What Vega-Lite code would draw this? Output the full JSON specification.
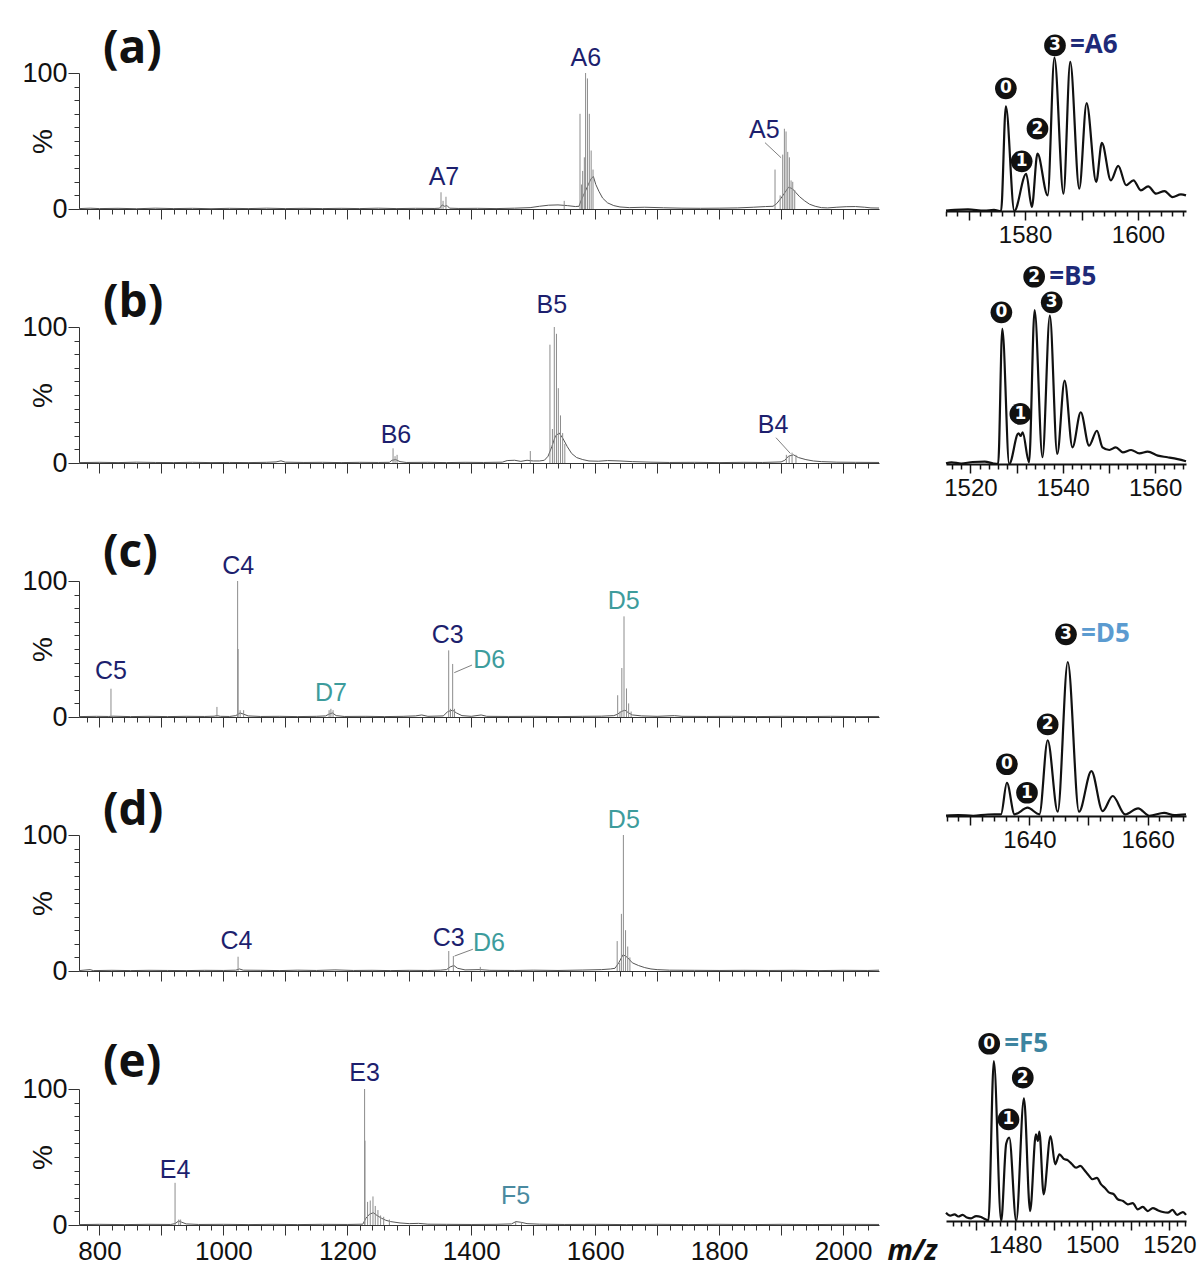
{
"$schema": "https://vega.github.io/schema/vega-lite/v6.json",
"background": "white",
"padding": {"left": 21, "top": 25, "right": 5, "bottom": 5},
"columns": 2,
"bounds": "flush",
"align": "each",
"spacing": {"row": 118, "column": 67},
"config": {"view": {"stroke": null}, "axis": {"grid": false}},
"datasets": {
"aE": [{"mz":767,"i":0.3},{"mz":785,"i":0.6},{"mz":800,"i":0.3},{"mz":830,"i":0.5},{"mz":860,"i":0.2},{"mz":890,"i":0.6},{"mz":920,"i":0.3},{"mz":950,"i":0.5},{"mz":980,"i":0.2},{"mz":1010,"i":0.5},{"mz":1040,"i":0.3},{"mz":1070,"i":0.6},{"mz":1100,"i":0.3},{"mz":1130,"i":0.5},{"mz":1160,"i":0.3},{"mz":1190,"i":0.5},{"mz":1220,"i":0.3},{"mz":1250,"i":0.6},{"mz":1280,"i":0.3},{"mz":1310,"i":0.5},{"mz":1340,"i":0.4},{"mz":1349,"i":0.6},{"mz":1353,"i":3},{"mz":1357,"i":2},{"mz":1361,"i":2.5},{"mz":1365,"i":0.6},{"mz":1380,"i":0.4},{"mz":1410,"i":0.5},{"mz":1440,"i":0.3},{"mz":1470,"i":0.6},{"mz":1495,"i":1},{"mz":1510,"i":2},{"mz":1525,"i":2.8},{"mz":1540,"i":3},{"mz":1555,"i":2.5},{"mz":1568,"i":1.8},{"mz":1574,"i":2},{"mz":1577,"i":6},{"mz":1581,"i":10},{"mz":1585,"i":14},{"mz":1589,"i":18},{"mz":1593,"i":22},{"mz":1597,"i":24},{"mz":1601,"i":18},{"mz":1606,"i":13},{"mz":1612,"i":8},{"mz":1620,"i":4.5},{"mz":1630,"i":2.5},{"mz":1640,"i":1.5},{"mz":1655,"i":1},{"mz":1680,"i":1.3},{"mz":1710,"i":0.9},{"mz":1740,"i":0.6},{"mz":1770,"i":0.5},{"mz":1800,"i":0.6},{"mz":1830,"i":0.8},{"mz":1855,"i":1.3},{"mz":1875,"i":1.8},{"mz":1887,"i":2},{"mz":1893,"i":4},{"mz":1900,"i":8},{"mz":1906,"i":12},{"mz":1912,"i":16},{"mz":1918,"i":15},{"mz":1924,"i":12},{"mz":1930,"i":9},{"mz":1938,"i":6},{"mz":1946,"i":3.5},{"mz":1955,"i":2},{"mz":1965,"i":1},{"mz":1975,"i":0.8},{"mz":1990,"i":1.3},{"mz":2005,"i":1.7},{"mz":2020,"i":1.8},{"mz":2035,"i":1.3},{"mz":2045,"i":0.8},{"mz":2058,"i":0.7}],
"aP": [{"mz":1351.2,"i":12.3},{"mz":1354.5,"i":6},{"mz":1359.2,"i":9},{"mz":1550,"i":6},{"mz":1575.5,"i":70},{"mz":1578,"i":18},{"mz":1579.8,"i":28},{"mz":1582.5,"i":38},{"mz":1584.5,"i":100},{"mz":1587.5,"i":96},{"mz":1590.5,"i":70},{"mz":1593.5,"i":43},{"mz":1596.5,"i":29},{"mz":1890.2,"i":29},{"mz":1898.5,"i":10},{"mz":1902.6,"i":40},{"mz":1905.3,"i":59},{"mz":1908,"i":57},{"mz":1910.7,"i":42},{"mz":1913.4,"i":38},{"mz":1916.1,"i":21},{"mz":1918.8,"i":20},{"mz":1922,"i":14}],
"aL": [{"mz":1356,"i":17.5,"t":"A7","f":"A"},{"mz":1585,"i":105,"t":"A6","f":"A"},{"mz":1873,"i":52.4,"t":"A5","f":"A"}],
"aLd": [{"mz":1874,"i":48.8,"mz2":1900,"i2":37.7}],
"bE": [{"mz":767,"i":0.3},{"mz":800,"i":0.5},{"mz":830,"i":0.3},{"mz":860,"i":0.6},{"mz":890,"i":0.4},{"mz":920,"i":0.3},{"mz":950,"i":0.5},{"mz":980,"i":0.3},{"mz":1010,"i":0.4},{"mz":1040,"i":0.3},{"mz":1070,"i":0.5},{"mz":1085,"i":0.8},{"mz":1093,"i":1.6},{"mz":1100,"i":0.6},{"mz":1130,"i":0.4},{"mz":1160,"i":0.5},{"mz":1190,"i":0.3},{"mz":1220,"i":0.5},{"mz":1250,"i":0.4},{"mz":1268,"i":0.5},{"mz":1272,"i":2},{"mz":1278,"i":2.5},{"mz":1285,"i":1},{"mz":1295,"i":0.4},{"mz":1330,"i":0.5},{"mz":1360,"i":0.3},{"mz":1390,"i":0.5},{"mz":1420,"i":0.4},{"mz":1450,"i":0.6},{"mz":1458,"i":1.8},{"mz":1470,"i":2},{"mz":1480,"i":1.2},{"mz":1490,"i":2},{"mz":1500,"i":1.5},{"mz":1510,"i":1.5},{"mz":1518,"i":2},{"mz":1524,"i":5},{"mz":1530,"i":12},{"mz":1536,"i":20},{"mz":1542,"i":22},{"mz":1548,"i":18},{"mz":1555,"i":12},{"mz":1562,"i":7},{"mz":1570,"i":4},{"mz":1580,"i":2.5},{"mz":1590,"i":1.5},{"mz":1605,"i":1.3},{"mz":1620,"i":1.8},{"mz":1640,"i":1.5},{"mz":1660,"i":1},{"mz":1690,"i":0.6},{"mz":1720,"i":0.4},{"mz":1760,"i":0.5},{"mz":1800,"i":0.3},{"mz":1840,"i":0.5},{"mz":1870,"i":0.4},{"mz":1900,"i":0.8},{"mz":1906,"i":2},{"mz":1912,"i":5},{"mz":1920,"i":6},{"mz":1928,"i":4},{"mz":1940,"i":2.5},{"mz":1952,"i":1.5},{"mz":1965,"i":1},{"mz":1990,"i":0.6},{"mz":2020,"i":0.5},{"mz":2058,"i":0.4}],
"bP": [{"mz":1273.8,"i":10.8},{"mz":1277,"i":5},{"mz":1280.3,"i":6},{"mz":1495.3,"i":8.8},{"mz":1527,"i":87},{"mz":1531,"i":25},{"mz":1534,"i":100},{"mz":1537.5,"i":95},{"mz":1540.5,"i":55},{"mz":1544,"i":35},{"mz":1547.5,"i":22},{"mz":1551,"i":14},{"mz":1908.5,"i":6},{"mz":1913,"i":5},{"mz":1917.7,"i":7.6},{"mz":1924,"i":6}],
"bL": [{"mz":1278.5,"i":14.9,"t":"B6","f":"B"},{"mz":1530,"i":110.5,"t":"B5","f":"B"},{"mz":1887,"i":22.3,"t":"B4","f":"B"}],
"bLd": [{"mz":1891.8,"i":18.6,"mz2":1915,"i2":7}],
"cE": [{"mz":767,"i":0.3},{"mz":795,"i":0.5},{"mz":815,"i":0.4},{"mz":822,"i":0.6},{"mz":850,"i":0.3},{"mz":880,"i":0.5},{"mz":910,"i":0.3},{"mz":940,"i":0.5},{"mz":970,"i":0.4},{"mz":985,"i":0.6},{"mz":990,"i":1},{"mz":995,"i":0.5},{"mz":1010,"i":0.4},{"mz":1020,"i":1},{"mz":1027,"i":3},{"mz":1033,"i":2},{"mz":1040,"i":0.8},{"mz":1060,"i":0.4},{"mz":1090,"i":0.5},{"mz":1120,"i":0.3},{"mz":1150,"i":0.5},{"mz":1165,"i":0.8},{"mz":1170,"i":2},{"mz":1176,"i":3},{"mz":1182,"i":1},{"mz":1195,"i":0.4},{"mz":1230,"i":0.5},{"mz":1260,"i":0.3},{"mz":1290,"i":0.5},{"mz":1310,"i":0.8},{"mz":1320,"i":1.5},{"mz":1330,"i":0.5},{"mz":1355,"i":0.8},{"mz":1362,"i":4},{"mz":1370,"i":5},{"mz":1376,"i":3},{"mz":1385,"i":1},{"mz":1400,"i":0.5},{"mz":1416,"i":1.5},{"mz":1425,"i":0.5},{"mz":1460,"i":0.4},{"mz":1500,"i":0.5},{"mz":1540,"i":0.3},{"mz":1580,"i":0.5},{"mz":1610,"i":0.6},{"mz":1630,"i":1},{"mz":1636,"i":2},{"mz":1642,"i":4},{"mz":1648,"i":5},{"mz":1654,"i":3},{"mz":1660,"i":1.5},{"mz":1675,"i":0.8},{"mz":1700,"i":0.5},{"mz":1728,"i":1},{"mz":1740,"i":0.5},{"mz":1780,"i":0.4},{"mz":1820,"i":0.5},{"mz":1860,"i":0.3},{"mz":1900,"i":0.5},{"mz":1940,"i":0.3},{"mz":1980,"i":0.5},{"mz":2020,"i":0.3},{"mz":2058,"i":0.4}],
"cP": [{"mz":818.6,"i":20.8},{"mz":989.6,"i":7.4},{"mz":1023,"i":100},{"mz":1023.8,"i":50},{"mz":1027,"i":5},{"mz":1032.7,"i":5},{"mz":1170.6,"i":5},{"mz":1173.5,"i":6},{"mz":1177,"i":5},{"mz":1363.6,"i":49},{"mz":1366.5,"i":6},{"mz":1370,"i":39},{"mz":1373,"i":6},{"mz":1636.3,"i":16},{"mz":1640,"i":4},{"mz":1643,"i":36},{"mz":1646.5,"i":74},{"mz":1650.5,"i":21},{"mz":1654,"i":10},{"mz":1658,"i":4}],
"cL": [{"mz":818.6,"i":27.7,"t":"C5","f":"C"},{"mz":1024,"i":105,"t":"C4","f":"C"},{"mz":1173.6,"i":11.8,"t":"D7","f":"D"},{"mz":1362,"i":54.6,"t":"C3","f":"C"},{"mz":1429,"i":36.3,"t":"D6","f":"D"},{"mz":1646,"i":79.2,"t":"D5","f":"D"}],
"cLd": [{"mz":1401.2,"i":38.2,"mz2":1372.6,"i2":32.6}],
"dE": [{"mz":767,"i":0.3},{"mz":785,"i":1},{"mz":790,"i":0.3},{"mz":820,"i":0.5},{"mz":850,"i":0.3},{"mz":880,"i":0.5},{"mz":910,"i":0.4},{"mz":940,"i":0.3},{"mz":970,"i":0.5},{"mz":1000,"i":0.4},{"mz":1020,"i":0.6},{"mz":1026,"i":1.5},{"mz":1032,"i":0.6},{"mz":1060,"i":0.5},{"mz":1090,"i":0.3},{"mz":1120,"i":0.6},{"mz":1150,"i":0.4},{"mz":1180,"i":0.8},{"mz":1210,"i":0.4},{"mz":1240,"i":0.5},{"mz":1270,"i":0.3},{"mz":1300,"i":0.5},{"mz":1330,"i":0.4},{"mz":1350,"i":0.6},{"mz":1360,"i":1},{"mz":1366,"i":3},{"mz":1372,"i":4},{"mz":1378,"i":2},{"mz":1390,"i":0.8},{"mz":1414,"i":1},{"mz":1430,"i":0.5},{"mz":1470,"i":0.4},{"mz":1500,"i":0.6},{"mz":1540,"i":0.4},{"mz":1580,"i":0.7},{"mz":1610,"i":1},{"mz":1625,"i":1.5},{"mz":1632,"i":2},{"mz":1638,"i":6},{"mz":1645,"i":12},{"mz":1652,"i":10},{"mz":1660,"i":6},{"mz":1670,"i":4},{"mz":1680,"i":2.5},{"mz":1690,"i":1.5},{"mz":1700,"i":1},{"mz":1720,"i":0.6},{"mz":1760,"i":0.5},{"mz":1800,"i":0.4},{"mz":1840,"i":0.5},{"mz":1880,"i":0.4},{"mz":1920,"i":0.5},{"mz":1960,"i":0.3},{"mz":2000,"i":0.5},{"mz":2040,"i":0.4},{"mz":2058,"i":0.6}],
"dP": [{"mz":1023.7,"i":10.5},{"mz":1363.7,"i":14.7},{"mz":1371.1,"i":11},{"mz":1414.6,"i":3},{"mz":1635.5,"i":22},{"mz":1639.5,"i":6},{"mz":1642.3,"i":42},{"mz":1645.5,"i":100},{"mz":1649,"i":30},{"mz":1652.5,"i":18},{"mz":1656,"i":10}],
"dL": [{"mz":1021,"i":16,"t":"C4","f":"C"},{"mz":1363.7,"i":18.4,"t":"C3","f":"C"},{"mz":1428.6,"i":14.7,"t":"D6","f":"D"},{"mz":1646.2,"i":105.4,"t":"D5","f":"D"}],
"dLd": [{"mz":1402.6,"i":16,"mz2":1373,"i2":11}],
"eE": [{"mz":767,"i":0.3},{"mz":800,"i":0.5},{"mz":840,"i":0.3},{"mz":880,"i":0.5},{"mz":915,"i":0.4},{"mz":922,"i":1},{"mz":928,"i":3},{"mz":933,"i":2},{"mz":940,"i":0.8},{"mz":960,"i":0.4},{"mz":1000,"i":0.5},{"mz":1040,"i":0.3},{"mz":1080,"i":0.5},{"mz":1120,"i":0.3},{"mz":1160,"i":0.5},{"mz":1200,"i":0.4},{"mz":1225,"i":0.6},{"mz":1230,"i":5},{"mz":1236,"i":8},{"mz":1242,"i":9},{"mz":1248,"i":7},{"mz":1255,"i":5},{"mz":1262,"i":3.5},{"mz":1270,"i":2.5},{"mz":1285,"i":1.5},{"mz":1300,"i":1},{"mz":1315,"i":1.2},{"mz":1330,"i":0.6},{"mz":1360,"i":0.5},{"mz":1400,"i":0.4},{"mz":1440,"i":0.5},{"mz":1465,"i":0.8},{"mz":1472,"i":2.5},{"mz":1480,"i":2},{"mz":1490,"i":1},{"mz":1510,"i":0.6},{"mz":1550,"i":0.4},{"mz":1600,"i":0.5},{"mz":1650,"i":0.3},{"mz":1700,"i":0.5},{"mz":1750,"i":0.3},{"mz":1800,"i":0.5},{"mz":1850,"i":0.3},{"mz":1900,"i":0.5},{"mz":1950,"i":0.3},{"mz":2000,"i":0.5},{"mz":2058,"i":0.4}],
"eP": [{"mz":922,"i":31},{"mz":928,"i":4},{"mz":931,"i":4},{"mz":1227.9,"i":100},{"mz":1228.5,"i":62},{"mz":1232.7,"i":17},{"mz":1237,"i":18},{"mz":1241.4,"i":21},{"mz":1245.1,"i":14},{"mz":1249.4,"i":11},{"mz":1253.7,"i":7},{"mz":1258.7,"i":6},{"mz":1267.9,"i":4},{"mz":1471.7,"i":2.5},{"mz":1481,"i":2}],
"eL": [{"mz":922,"i":34.8,"t":"E4","f":"E"},{"mz":1228,"i":105.9,"t":"E3","f":"E"},{"mz":1471.7,"i":15.2,"t":"F5","f":"F"}],
"iA": [{"mz":1566,"i":0.3},{"mz":1567.5,"i":0.7},{"mz":1569.9,"i":1},{"mz":1572.8,"i":0.2},{"mz":1574.5,"i":0.7},{"mz":1575.75,"i":0},{"mz":1576.6,"i":68.3},{"mz":1578.1,"i":0},{"mz":1580.2,"i":24.3},{"mz":1581.2,"i":2.6},{"mz":1582.2,"i":37.4},{"mz":1584,"i":10.2},{"mz":1585.2,"i":100},{"mz":1586.8,"i":11.3},{"mz":1588,"i":97.2},{"mz":1589.6,"i":14.5},{"mz":1590.9,"i":70.4},{"mz":1592.6,"i":18.9},{"mz":1593.6,"i":44.4},{"mz":1595.2,"i":20},{"mz":1596.5,"i":29.4},{"mz":1597.9,"i":16.8},{"mz":1599.2,"i":20},{"mz":1600.5,"i":13.5},{"mz":1601.8,"i":16.1},{"mz":1603.2,"i":11.3},{"mz":1604.7,"i":13},{"mz":1606.1,"i":9.1},{"mz":1607.6,"i":10.9},{"mz":1608.5,"i":10.2}],
"iAL": [{"mz":1576.6,"i":80,"n":"0"},{"mz":1579.4,"i":32.4,"n":"1"},{"mz":1582.2,"i":53.7,"n":"2"},{"mz":1585.3,"i":108,"n":"3","tag":"=A6"}],
"iB": [{"mz":1514.7,"i":0.5},{"mz":1515.9,"i":1.1},{"mz":1518,"i":0.3},{"mz":1520.5,"i":1.3},{"mz":1523.1,"i":1.5},{"mz":1525,"i":0.3},{"mz":1526,"i":0},{"mz":1526.9,"i":87.7},{"mz":1528.4,"i":0},{"mz":1530.4,"i":19.9},{"mz":1530.9,"i":18.2},{"mz":1531.3,"i":20.6},{"mz":1532.7,"i":1.1},{"mz":1533.9,"i":100},{"mz":1535.6,"i":4.4},{"mz":1537.2,"i":96.3},{"mz":1538.8,"i":6.5},{"mz":1540.4,"i":54.1},{"mz":1542.1,"i":10.8},{"mz":1543.9,"i":33.6},{"mz":1545.7,"i":11.9},{"mz":1547.4,"i":21.6},{"mz":1548.6,"i":10.8},{"mz":1550.1,"i":9.1},{"mz":1551.5,"i":10.8},{"mz":1553,"i":7.6},{"mz":1554.8,"i":9.1},{"mz":1556.6,"i":6.9},{"mz":1558.4,"i":8},{"mz":1560.6,"i":5.4},{"mz":1562.7,"i":4.4},{"mz":1564.9,"i":3.2},{"mz":1566.7,"i":1.8}],
"iBL": [{"mz":1526.7,"i":98.5,"n":"0"},{"mz":1530.8,"i":32.5,"n":"1"},{"mz":1533.8,"i":121.6,"n":"2","tag":"=B5"},{"mz":1537.6,"i":105,"n":"3"}],
"iC": [{"mz":1625.9,"i":0.3},{"mz":1628,"i":0.6},{"mz":1630.5,"i":0.2},{"mz":1633,"i":1},{"mz":1635.2,"i":1.1},{"mz":1636.2,"i":21.6},{"mz":1637.5,"i":1.1},{"mz":1639.7,"i":5.4},{"mz":1641.7,"i":1.1},{"mz":1643.1,"i":49.2},{"mz":1644.8,"i":2.8},{"mz":1646.5,"i":100},{"mz":1648.4,"i":2.8},{"mz":1650.5,"i":29.2},{"mz":1652.4,"i":3.2},{"mz":1654.1,"i":13},{"mz":1656.2,"i":1.1},{"mz":1658.4,"i":5},{"mz":1660.3,"i":0.2},{"mz":1662.8,"i":2.1},{"mz":1664.5,"i":0.6},{"mz":1666.5,"i":1.1}],
"iCL": [{"mz":1636.2,"i":33.6,"n":"0"},{"mz":1639.6,"i":15.1,"n":"1"},{"mz":1643.1,"i":59.5,"n":"2"},{"mz":1646.2,"i":118,"n":"3","tag":"=D5"}],
"iE": [{"mz":1462.1,"i":5.2},{"mz":1463.2,"i":3.4},{"mz":1464.3,"i":4.2},{"mz":1465.3,"i":2.8},{"mz":1466.4,"i":3.8},{"mz":1467.5,"i":2.2},{"mz":1468.6,"i":1.7},{"mz":1469.9,"i":3.1},{"mz":1471.2,"i":2.5},{"mz":1472.2,"i":1.2},{"mz":1473.1,"i":0.4},{"mz":1474.5,"i":100},{"mz":1476.4,"i":0},{"mz":1477.7,"i":48.3},{"mz":1478.5,"i":52.1},{"mz":1480.3,"i":0},{"mz":1482.3,"i":76.7},{"mz":1483.9,"i":6.2},{"mz":1485.4,"i":54.2},{"mz":1485.9,"i":50},{"mz":1486.3,"i":55.8},{"mz":1487.4,"i":16.7},{"mz":1489.2,"i":53.1},{"mz":1490.4,"i":35.4},{"mz":1491.5,"i":41.7},{"mz":1492.6,"i":38.8},{"mz":1493.7,"i":37.9},{"mz":1494.7,"i":35.6},{"mz":1495.8,"i":33.3},{"mz":1496.9,"i":34.4},{"mz":1498,"i":31.7},{"mz":1499,"i":28.8},{"mz":1500.1,"i":26.1},{"mz":1501.2,"i":26.9},{"mz":1502.3,"i":22.9},{"mz":1503.3,"i":20.6},{"mz":1504.4,"i":17.7},{"mz":1505.5,"i":16.9},{"mz":1506.6,"i":13.6},{"mz":1508,"i":12.5},{"mz":1509.2,"i":10.4},{"mz":1510.5,"i":11.2},{"mz":1511.8,"i":7.3},{"mz":1513.1,"i":8.8},{"mz":1514.4,"i":6.2},{"mz":1515.7,"i":8.1},{"mz":1517,"i":6.7},{"mz":1518.3,"i":5.6},{"mz":1519.6,"i":5.2},{"mz":1520.8,"i":6.9},{"mz":1522,"i":3.8},{"mz":1523.5,"i":5.6},{"mz":1524.3,"i":3.8}],
"iEL": [{"mz":1473.3,"i":110.8,"n":"0","tag":"=F5"},{"mz":1478.3,"i":63.5,"n":"1"},{"mz":1482,"i":89.6,"n":"2"}]
},
"concat": [
{
"width": 800, "height": 136,
"title": {"text": "(a)", "anchor": "start", "frame": "group", "dx": 24, "offset": -26.5, "fontSize": 46, "font": "Open Sans", "fontWeight": "bold", "color": "#111"},
"encoding": {
"x": {"field": "mz", "type": "quantitative", "scale": {"domain": [767, 2058], "nice": false, "zero": false}, "axis": {"values": [780,800,820,840,860,880,900,920,940,960,980,1000,1020,1040,1060,1080,1100,1120,1140,1160,1180,1200,1220,1240,1260,1280,1300,1320,1340,1360,1380,1400,1420,1440,1460,1480,1500,1520,1540,1560,1580,1600,1620,1640,1660,1680,1700,1720,1740,1760,1780,1800,1820,1840,1860,1880,1900,1920,1940,1960,1980,2000,2020,2040], "labels": false, "title": null, "tickSize": {"condition": {"test": "datum.value % 100 === 0", "value": 10}, "value": 5}, "domainColor": "#333", "tickColor": "#333"}},
"y": {"field": "i", "type": "quantitative", "scale": {"domain": [0, 100], "nice": false}, "axis": {"values": [0,10,20,30,40,50,60,70,80,90,100], "labelExpr": "datum.value === 0 || datum.value === 100 ? datum.label : ''", "labelFont": "Liberation Sans", "labelFontSize": 27, "labelColor": "#111", "labelPadding": 1, "labelFlush": false, "labelOverlap": false, "tickSize": {"condition": {"test": "datum.value === 0 || datum.value === 100", "value": 11}, "value": 5}, "title": "%", "titleFont": "Liberation Sans", "titleFontSize": 28, "titleFontWeight": "normal", "titleColor": "#111", "titleX": -36, "titleY": 68, "titleAngle": -90, "titleAlign": "center", "titleBaseline": "middle", "domainColor": "#333", "tickColor": "#333"}}
},
"layer": [
{"data": {"name": "aE"}, "mark": {"type": "line", "color": "#555", "strokeWidth": 1}, "encoding": {}},
{"data": {"name": "aP"}, "mark": {"type": "rule", "color": "#8c8c8c", "strokeWidth": 1}, "encoding": {"y2": {"datum": 0}}},
{"data": {"name": "aLd"}, "mark": {"type": "rule", "color": "#808080", "strokeWidth": 1}, "encoding": {"x2": {"field": "mz2"}, "y2": {"field": "i2"}}},
{"data": {"name": "aL"}, "mark": {"type": "text", "font": "Liberation Sans", "fontSize": 25, "baseline": "alphabetic", "align": "center"}, "encoding": {"text": {"field": "t", "type": "nominal"}, "color": {"field": "f", "type": "nominal", "scale": {"domain": ["A","B","C","D","E","F"], "range": ["#1d1f6e","#1d1f6e","#1d1f6e","#3d9c9c","#1d1f6e","#4a8aa0"]}, "legend": null}}}
]
},
{
"width": 240, "height": 136,
"encoding": {
"x": {"field": "mz", "type": "quantitative", "scale": {"domain": [1566, 1608.5], "nice": false, "zero": false}, "axis": {"values": [1566,1568,1570,1572,1574,1576,1578,1580,1582,1584,1586,1588,1590,1592,1594,1596,1598,1600,1602,1604,1606,1608], "format": "d", "labelExpr": "datum.value % 20 === 0 ? datum.label : ''", "labelFont": "Liberation Sans", "labelFontSize": 24, "labelColor": "#111", "labelPadding": 3, "labelOverlap": false, "labelFlush": false, "tickSize": {"condition": {"test": "datum.value % 10 === 0", "value": 9}, "value": 5}, "tickWidth": 1.5, "domainWidth": 2, "domainColor": "#111", "tickColor": "#111", "title": null, "offset": 2}},
"y": {"field": "i", "type": "quantitative", "scale": {"domain": [1.3, 90], "nice": false, "zero": false}, "axis": null}
},
"layer": [
{"data": {"name": "iA"}, "mark": {"type": "line", "color": "#111", "strokeWidth": 2.2, "interpolate": "monotone"}, "encoding": {}},
{"data": {"name": "iAL"}, "mark": {"type": "point", "filled": true, "color": "#111", "size": 470, "opacity": 1}},
{"data": {"name": "iAL"}, "mark": {"type": "text", "color": "white", "font": "DejaVu Sans", "fontWeight": "bold", "fontSize": 17, "align": "center", "baseline": "middle"}, "encoding": {"text": {"field": "n", "type": "nominal"}}},
{"data": {"name": "iAL"}, "transform": [{"filter": "isValid(datum.tag)"}], "mark": {"type": "text", "color": "#1e2a78", "font": "Open Sans", "fontWeight": "bold", "fontSize": 26, "align": "left", "baseline": "middle", "dx": 15}, "encoding": {"text": {"field": "tag", "type": "nominal"}}}
]
},
{
"width": 800, "height": 136,
"title": {"text": "(b)", "anchor": "start", "frame": "group", "dx": 24, "offset": -34, "fontSize": 46, "font": "Open Sans", "fontWeight": "bold", "color": "#111"},
"encoding": {
"x": {"field": "mz", "type": "quantitative", "scale": {"domain": [767, 2058], "nice": false, "zero": false}, "axis": {"values": [780,800,820,840,860,880,900,920,940,960,980,1000,1020,1040,1060,1080,1100,1120,1140,1160,1180,1200,1220,1240,1260,1280,1300,1320,1340,1360,1380,1400,1420,1440,1460,1480,1500,1520,1540,1560,1580,1600,1620,1640,1660,1680,1700,1720,1740,1760,1780,1800,1820,1840,1860,1880,1900,1920,1940,1960,1980,2000,2020,2040], "labels": false, "title": null, "tickSize": {"condition": {"test": "datum.value % 100 === 0", "value": 10}, "value": 5}, "domainColor": "#333", "tickColor": "#333"}},
"y": {"field": "i", "type": "quantitative", "scale": {"domain": [0, 100], "nice": false}, "axis": {"values": [0,10,20,30,40,50,60,70,80,90,100], "labelExpr": "datum.value === 0 || datum.value === 100 ? datum.label : ''", "labelFont": "Liberation Sans", "labelFontSize": 27, "labelColor": "#111", "labelPadding": 1, "labelFlush": false, "labelOverlap": false, "tickSize": {"condition": {"test": "datum.value === 0 || datum.value === 100", "value": 11}, "value": 5}, "title": "%", "titleFont": "Liberation Sans", "titleFontSize": 28, "titleFontWeight": "normal", "titleColor": "#111", "titleX": -36, "titleY": 68, "titleAngle": -90, "titleAlign": "center", "titleBaseline": "middle", "domainColor": "#333", "tickColor": "#333"}}
},
"layer": [
{"data": {"name": "bE"}, "mark": {"type": "line", "color": "#555", "strokeWidth": 1}, "encoding": {}},
{"data": {"name": "bP"}, "mark": {"type": "rule", "color": "#8c8c8c", "strokeWidth": 1}, "encoding": {"y2": {"datum": 0}}},
{"data": {"name": "bLd"}, "mark": {"type": "rule", "color": "#808080", "strokeWidth": 1}, "encoding": {"x2": {"field": "mz2"}, "y2": {"field": "i2"}}},
{"data": {"name": "bL"}, "mark": {"type": "text", "font": "Liberation Sans", "fontSize": 25, "baseline": "alphabetic", "align": "center"}, "encoding": {"text": {"field": "t", "type": "nominal"}, "color": {"field": "f", "type": "nominal", "scale": {"domain": ["A","B","C","D","E","F"], "range": ["#1d1f6e","#1d1f6e","#1d1f6e","#3d9c9c","#1d1f6e","#4a8aa0"]}, "legend": null}}}
]
},
{
"width": 240, "height": 136,
"encoding": {
"x": {"field": "mz", "type": "quantitative", "scale": {"domain": [1514.7, 1566.7], "nice": false, "zero": false}, "axis": {"values": [1516,1518,1520,1522,1524,1526,1528,1530,1532,1534,1536,1538,1540,1542,1544,1546,1548,1550,1552,1554,1556,1558,1560,1562,1564,1566], "format": "d", "labelExpr": "datum.value % 20 === 0 ? datum.label : ''", "labelFont": "Liberation Sans", "labelFontSize": 24, "labelColor": "#111", "labelPadding": 3, "labelOverlap": false, "labelFlush": false, "tickSize": {"condition": {"test": "datum.value % 10 === 0", "value": 9}, "value": 5}, "tickWidth": 1.5, "domainWidth": 2, "domainColor": "#111", "tickColor": "#111", "title": null, "offset": 1}},
"y": {"field": "i", "type": "quantitative", "scale": {"domain": [0.65, 88.96], "nice": false, "zero": false}, "axis": null}
},
"layer": [
{"data": {"name": "iB"}, "mark": {"type": "line", "color": "#111", "strokeWidth": 2.2, "interpolate": "monotone"}, "encoding": {}},
{"data": {"name": "iBL"}, "mark": {"type": "point", "filled": true, "color": "#111", "size": 470, "opacity": 1}},
{"data": {"name": "iBL"}, "mark": {"type": "text", "color": "white", "font": "DejaVu Sans", "fontWeight": "bold", "fontSize": 17, "align": "center", "baseline": "middle"}, "encoding": {"text": {"field": "n", "type": "nominal"}}},
{"data": {"name": "iBL"}, "transform": [{"filter": "isValid(datum.tag)"}], "mark": {"type": "text", "color": "#1e2a78", "font": "Open Sans", "fontWeight": "bold", "fontSize": 26, "align": "left", "baseline": "middle", "dx": 15}, "encoding": {"text": {"field": "tag", "type": "nominal"}}}
]
},
{
"width": 800, "height": 136,
"title": {"text": "(c)", "anchor": "start", "frame": "group", "dx": 24, "offset": -22.5, "fontSize": 46, "font": "Open Sans", "fontWeight": "bold", "color": "#111"},
"encoding": {
"x": {"field": "mz", "type": "quantitative", "scale": {"domain": [767, 2058], "nice": false, "zero": false}, "axis": {"values": [780,800,820,840,860,880,900,920,940,960,980,1000,1020,1040,1060,1080,1100,1120,1140,1160,1180,1200,1220,1240,1260,1280,1300,1320,1340,1360,1380,1400,1420,1440,1460,1480,1500,1520,1540,1560,1580,1600,1620,1640,1660,1680,1700,1720,1740,1760,1780,1800,1820,1840,1860,1880,1900,1920,1940,1960,1980,2000,2020,2040], "labels": false, "title": null, "tickSize": {"condition": {"test": "datum.value % 100 === 0", "value": 10}, "value": 5}, "domainColor": "#333", "tickColor": "#333"}},
"y": {"field": "i", "type": "quantitative", "scale": {"domain": [0, 100], "nice": false}, "axis": {"values": [0,10,20,30,40,50,60,70,80,90,100], "labelExpr": "datum.value === 0 || datum.value === 100 ? datum.label : ''", "labelFont": "Liberation Sans", "labelFontSize": 27, "labelColor": "#111", "labelPadding": 1, "labelFlush": false, "labelOverlap": false, "tickSize": {"condition": {"test": "datum.value === 0 || datum.value === 100", "value": 11}, "value": 5}, "title": "%", "titleFont": "Liberation Sans", "titleFontSize": 28, "titleFontWeight": "normal", "titleColor": "#111", "titleX": -36, "titleY": 68, "titleAngle": -90, "titleAlign": "center", "titleBaseline": "middle", "domainColor": "#333", "tickColor": "#333"}}
},
"layer": [
{"data": {"name": "cE"}, "mark": {"type": "line", "color": "#555", "strokeWidth": 1}, "encoding": {}},
{"data": {"name": "cP"}, "mark": {"type": "rule", "color": "#8c8c8c", "strokeWidth": 1}, "encoding": {"y2": {"datum": 0}}},
{"data": {"name": "cLd"}, "mark": {"type": "rule", "color": "#808080", "strokeWidth": 1}, "encoding": {"x2": {"field": "mz2"}, "y2": {"field": "i2"}}},
{"data": {"name": "cL"}, "mark": {"type": "text", "font": "Liberation Sans", "fontSize": 25, "baseline": "alphabetic", "align": "center"}, "encoding": {"text": {"field": "t", "type": "nominal"}, "color": {"field": "f", "type": "nominal", "scale": {"domain": ["A","B","C","D","E","F"], "range": ["#1d1f6e","#1d1f6e","#1d1f6e","#3d9c9c","#1d1f6e","#4a8aa0"]}, "legend": null}}}
]
},
{
"width": 240, "height": 136,
"encoding": {
"x": {"field": "mz", "type": "quantitative", "scale": {"domain": [1625.9, 1666.5], "nice": false, "zero": false}, "axis": {"values": [1626,1628,1630,1632,1634,1636,1638,1640,1642,1644,1646,1648,1650,1652,1654,1656,1658,1660,1662,1664,1666], "format": "d", "labelExpr": "datum.value % 20 === 0 ? datum.label : ''", "labelFont": "Liberation Sans", "labelFontSize": 24, "labelColor": "#111", "labelPadding": 3, "labelOverlap": false, "labelFlush": false, "tickSize": {"condition": {"test": "datum.value % 10 === 0", "value": 9}, "value": 5}, "tickWidth": 1.5, "domainWidth": 2, "domainColor": "#111", "tickColor": "#111", "title": null, "offset": 99}},
"y": {"field": "i", "type": "quantitative", "scale": {"domain": [64.3, 152.6], "nice": false, "zero": false}, "axis": null}
},
"layer": [
{"data": {"name": "iC"}, "mark": {"type": "line", "color": "#111", "strokeWidth": 2.2, "interpolate": "monotone"}, "encoding": {}},
{"data": {"name": "iCL"}, "mark": {"type": "point", "filled": true, "color": "#111", "size": 470, "opacity": 1}},
{"data": {"name": "iCL"}, "mark": {"type": "text", "color": "white", "font": "DejaVu Sans", "fontWeight": "bold", "fontSize": 17, "align": "center", "baseline": "middle"}, "encoding": {"text": {"field": "n", "type": "nominal"}}},
{"data": {"name": "iCL"}, "transform": [{"filter": "isValid(datum.tag)"}], "mark": {"type": "text", "color": "#5b9bd0", "font": "Open Sans", "fontWeight": "bold", "fontSize": 26, "align": "left", "baseline": "middle", "dx": 15}, "encoding": {"text": {"field": "tag", "type": "nominal"}}}
]
},
{
"width": 800, "height": 136,
"title": {"text": "(d)", "anchor": "start", "frame": "group", "dx": 24, "offset": -27, "fontSize": 46, "font": "Open Sans", "fontWeight": "bold", "color": "#111"},
"encoding": {
"x": {"field": "mz", "type": "quantitative", "scale": {"domain": [767, 2058], "nice": false, "zero": false}, "axis": {"values": [780,800,820,840,860,880,900,920,940,960,980,1000,1020,1040,1060,1080,1100,1120,1140,1160,1180,1200,1220,1240,1260,1280,1300,1320,1340,1360,1380,1400,1420,1440,1460,1480,1500,1520,1540,1560,1580,1600,1620,1640,1660,1680,1700,1720,1740,1760,1780,1800,1820,1840,1860,1880,1900,1920,1940,1960,1980,2000,2020,2040], "labels": false, "title": null, "tickSize": {"condition": {"test": "datum.value % 100 === 0", "value": 10}, "value": 5}, "domainColor": "#333", "tickColor": "#333"}},
"y": {"field": "i", "type": "quantitative", "scale": {"domain": [0, 100], "nice": false}, "axis": {"values": [0,10,20,30,40,50,60,70,80,90,100], "labelExpr": "datum.value === 0 || datum.value === 100 ? datum.label : ''", "labelFont": "Liberation Sans", "labelFontSize": 27, "labelColor": "#111", "labelPadding": 1, "labelFlush": false, "labelOverlap": false, "tickSize": {"condition": {"test": "datum.value === 0 || datum.value === 100", "value": 11}, "value": 5}, "title": "%", "titleFont": "Liberation Sans", "titleFontSize": 28, "titleFontWeight": "normal", "titleColor": "#111", "titleX": -36, "titleY": 68, "titleAngle": -90, "titleAlign": "center", "titleBaseline": "middle", "domainColor": "#333", "tickColor": "#333"}}
},
"layer": [
{"data": {"name": "dE"}, "mark": {"type": "line", "color": "#555", "strokeWidth": 1}, "encoding": {}},
{"data": {"name": "dP"}, "mark": {"type": "rule", "color": "#8c8c8c", "strokeWidth": 1}, "encoding": {"y2": {"datum": 0}}},
{"data": {"name": "dLd"}, "mark": {"type": "rule", "color": "#808080", "strokeWidth": 1}, "encoding": {"x2": {"field": "mz2"}, "y2": {"field": "i2"}}},
{"data": {"name": "dL"}, "mark": {"type": "text", "font": "Liberation Sans", "fontSize": 25, "baseline": "alphabetic", "align": "center"}, "encoding": {"text": {"field": "t", "type": "nominal"}, "color": {"field": "f", "type": "nominal", "scale": {"domain": ["A","B","C","D","E","F"], "range": ["#1d1f6e","#1d1f6e","#1d1f6e","#3d9c9c","#1d1f6e","#4a8aa0"]}, "legend": null}}}
]
},
{
"width": 240, "height": 136,
"data": {"values": []},
"mark": {"type": "text"},
"encoding": {"text": {"value": ""}}
},
{
"width": 800, "height": 136,
"title": {"text": "(e)", "anchor": "start", "frame": "group", "dx": 24, "offset": -25.7, "fontSize": 46, "font": "Open Sans", "fontWeight": "bold", "color": "#111"},
"encoding": {
"x": {"field": "mz", "type": "quantitative", "scale": {"domain": [767, 2058], "nice": false, "zero": false}, "axis": {"values": [780,800,820,840,860,880,900,920,940,960,980,1000,1020,1040,1060,1080,1100,1120,1140,1160,1180,1200,1220,1240,1260,1280,1300,1320,1340,1360,1380,1400,1420,1440,1460,1480,1500,1520,1540,1560,1580,1600,1620,1640,1660,1680,1700,1720,1740,1760,1780,1800,1820,1840,1860,1880,1900,1920,1940,1960,1980,2000,2020,2040], "format": "d", "labelExpr": "datum.value % 200 === 0 ? datum.label : ''", "labelFont": "Liberation Sans", "labelFontSize": 26, "labelColor": "#111", "labelPadding": 3, "labelOverlap": false, "labelFlush": false, "tickSize": {"condition": {"test": "datum.value % 100 === 0", "value": 10}, "value": 5}, "domainColor": "#333", "tickColor": "#333", "title": "m/z", "titleFont": "Open Sans", "titleFontStyle": "italic", "titleFontWeight": "bold", "titleFontSize": 28, "titleColor": "#111", "titleX": 808, "titleY": 34, "titleAlign": "left", "titleBaseline": "alphabetic"}},
"y": {"field": "i", "type": "quantitative", "scale": {"domain": [0, 100], "nice": false}, "axis": {"values": [0,10,20,30,40,50,60,70,80,90,100], "labelExpr": "datum.value === 0 || datum.value === 100 ? datum.label : ''", "labelFont": "Liberation Sans", "labelFontSize": 27, "labelColor": "#111", "labelPadding": 1, "labelFlush": false, "labelOverlap": false, "tickSize": {"condition": {"test": "datum.value === 0 || datum.value === 100", "value": 11}, "value": 5}, "title": "%", "titleFont": "Liberation Sans", "titleFontSize": 28, "titleFontWeight": "normal", "titleColor": "#111", "titleX": -36, "titleY": 68, "titleAngle": -90, "titleAlign": "center", "titleBaseline": "middle", "domainColor": "#333", "tickColor": "#333"}}
},
"layer": [
{"data": {"name": "eE"}, "mark": {"type": "line", "color": "#555", "strokeWidth": 1}, "encoding": {}},
{"data": {"name": "eP"}, "mark": {"type": "rule", "color": "#8c8c8c", "strokeWidth": 1}, "encoding": {"y2": {"datum": 0}}},
{"data": {"name": "eL"}, "mark": {"type": "text", "font": "Liberation Sans", "fontSize": 25, "baseline": "alphabetic", "align": "center"}, "encoding": {"text": {"field": "t", "type": "nominal"}, "color": {"field": "f", "type": "nominal", "scale": {"domain": ["A","B","C","D","E","F"], "range": ["#1d1f6e","#1d1f6e","#1d1f6e","#3d9c9c","#1d1f6e","#4a8aa0"]}, "legend": null}}}
]
},
{
"width": 240, "height": 136,
"encoding": {
"x": {"field": "mz", "type": "quantitative", "scale": {"domain": [1462.1, 1524.3], "nice": false, "zero": false}, "axis": {"values": [1464,1466,1468,1470,1472,1474,1476,1478,1480,1482,1484,1486,1488,1490,1492,1494,1496,1498,1500,1502,1504,1506,1508,1510,1512,1514,1516,1518,1520,1522,1524], "format": "d", "labelExpr": "datum.value % 20 === 0 ? datum.label : ''", "labelFont": "Liberation Sans", "labelFontSize": 24, "labelColor": "#111", "labelPadding": 3, "labelOverlap": false, "labelFlush": false, "tickSize": {"condition": {"test": "datum.value % 10 === 0", "value": 9}, "value": 5}, "tickWidth": 1.5, "domainWidth": 2, "domainColor": "#111", "tickColor": "#111", "title": null, "offset": -4}},
"y": {"field": "i", "type": "quantitative", "scale": {"domain": [-2.5, 82.5], "nice": false, "zero": false}, "axis": null}
},
"layer": [
{"data": {"name": "iE"}, "mark": {"type": "line", "color": "#111", "strokeWidth": 2.2, "interpolate": "monotone"}, "encoding": {}},
{"data": {"name": "iEL"}, "mark": {"type": "point", "filled": true, "color": "#111", "size": 470, "opacity": 1}},
{"data": {"name": "iEL"}, "mark": {"type": "text", "color": "white", "font": "DejaVu Sans", "fontWeight": "bold", "fontSize": 17, "align": "center", "baseline": "middle"}, "encoding": {"text": {"field": "n", "type": "nominal"}}},
{"data": {"name": "iEL"}, "transform": [{"filter": "isValid(datum.tag)"}], "mark": {"type": "text", "color": "#3d84a0", "font": "Open Sans", "fontWeight": "bold", "fontSize": 26, "align": "left", "baseline": "middle", "dx": 15}, "encoding": {"text": {"field": "tag", "type": "nominal"}}}
]
}
]
}
